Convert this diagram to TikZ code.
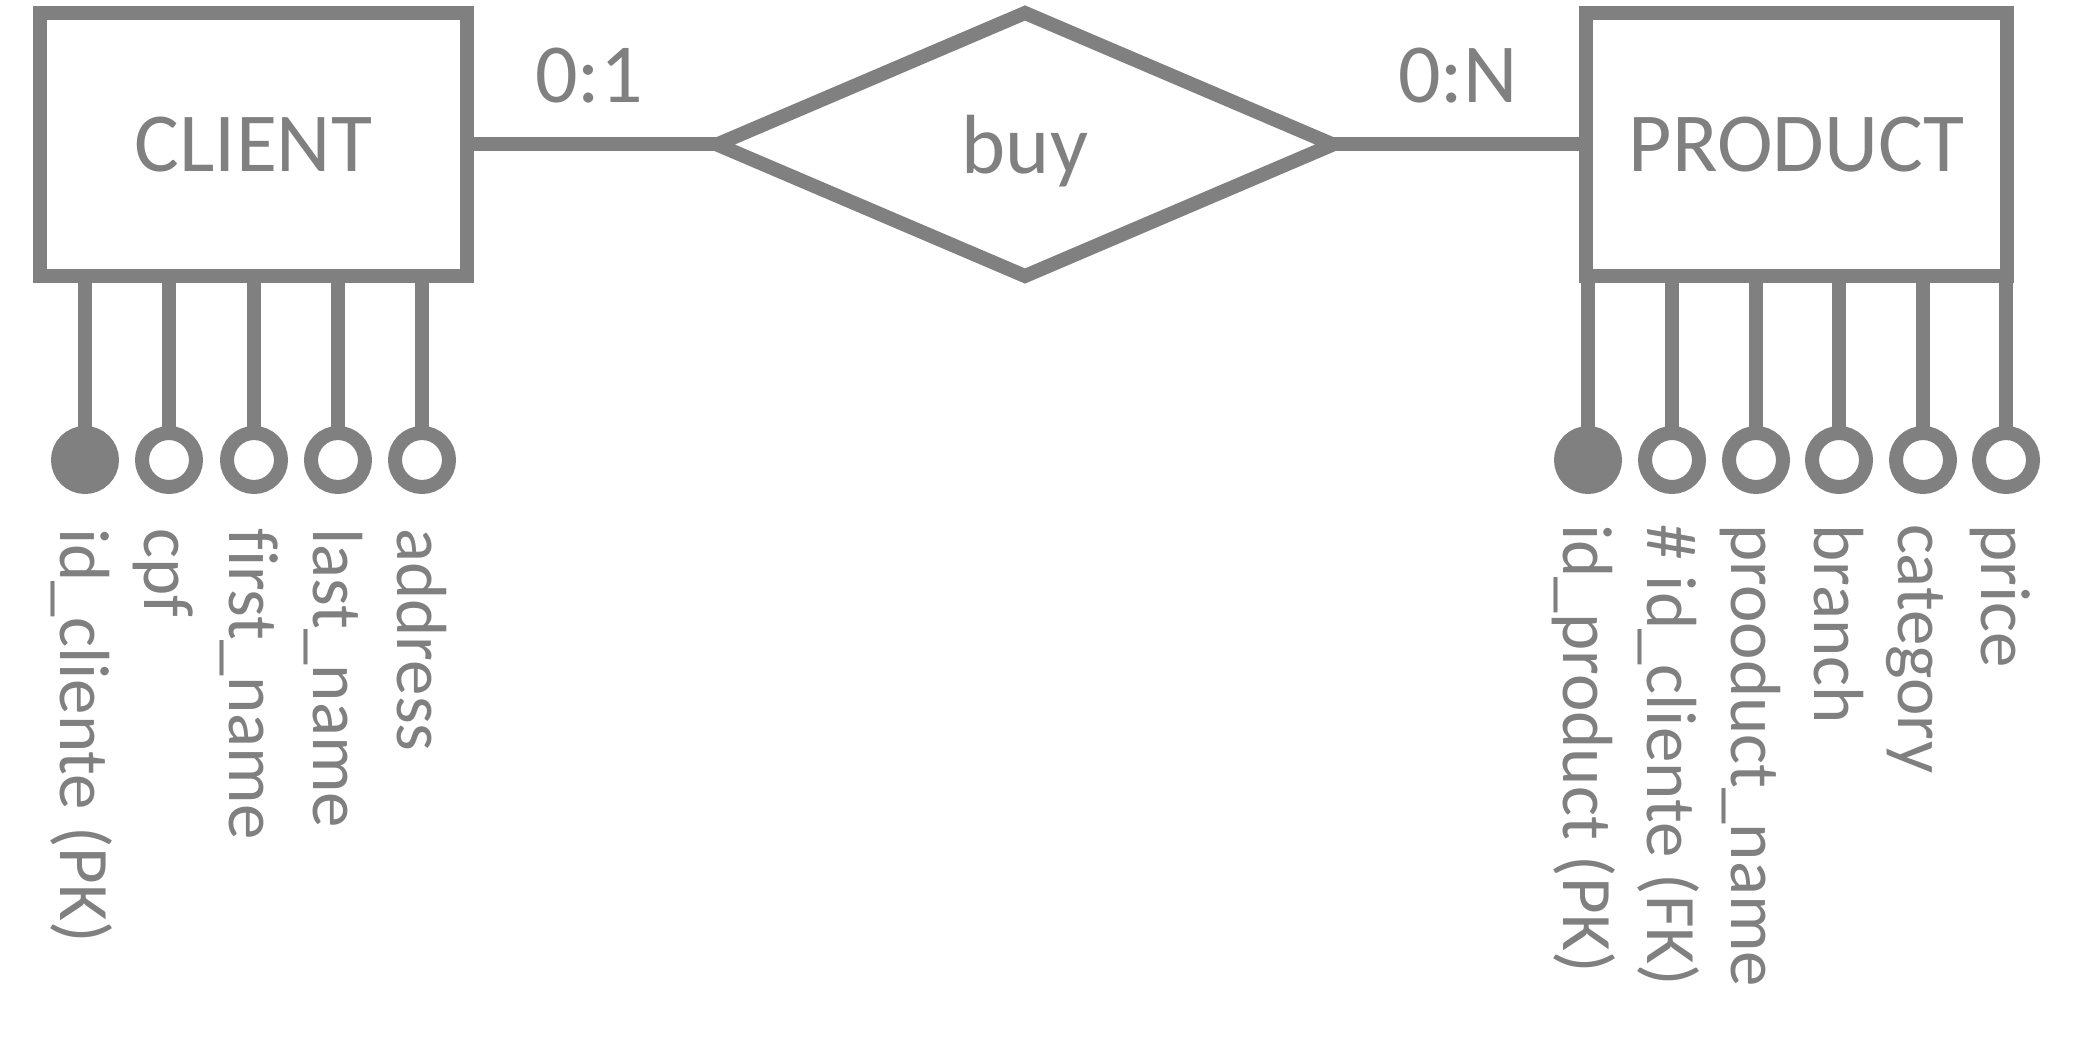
\documentclass[tikz,border=0pt]{standalone}
\usepackage{fontspec}
\setmainfont{Carlito}[Ligatures={NoCommon}]
\usetikzlibrary{shapes.geometric}
\definecolor{ergray}{HTML}{808080}
\begin{document}
\begin{tikzpicture}[x=0.5pt,y=-0.5pt,
  every node/.style={text=ergray},
  entity/.style={draw=ergray, line width=7pt, rectangle, inner sep=0pt, outer sep=0pt, font=\fontsize{42}{50}\selectfont},
  relation/.style={draw=ergray, line width=7pt, diamond, minimum width=308pt, minimum height=131.5pt, inner sep=0pt, outer sep=0pt, font=\fontsize{42}{50}\selectfont, text depth=0pt},
  conn/.style={draw=ergray, line width=7pt},
  attr/.style={circle, draw=ergray, line width=7pt, minimum size=27pt, inner sep=0pt, outer sep=0pt, fill=white},
  pk/.style={attr, fill=ergray},
  attrlabel/.style={rotate=-90, anchor=west, inner sep=0pt, font=\fontsize{35.5}{40}\selectfont, text height=25pt, text depth=0pt},
  card/.style={anchor=base, inner sep=0pt, font=\fontsize{42}{50}\selectfont}
]
\useasboundingbox (0,0) rectangle (2075,1042);

% entities and relationship
\node[entity, minimum width=213.5pt, minimum height=131.5pt] (client) at (253.5,144.5) {CLIENT};
\node[entity, minimum width=210.5pt, minimum height=131.5pt] (product) at (1796.5,144.5) {PRODUCT};
\node[relation] (buy) at (1025,144.5) {buy};

\draw[conn] (client.east) -- (buy.west);
\draw[conn] (buy.east) -- (product.west);

\node[card] (card1) at (589,103) {0:1};
\node[card] (card2) at (1458,103) {0:N};

% client attributes
\node[pk]   (c1) at (85,460) {};
\node[attr] (c2) at (169,460) {};
\node[attr] (c3) at (254,460) {};
\node[attr] (c4) at (338,460) {};
\node[attr] (c5) at (422,460) {};
\foreach \a in {c1,c2,c3,c4,c5}{\draw[conn] (\a |- client.south) -- (\a.north);}

\node[attrlabel] (lc1) at ([yshift=-20.5pt]c1.south) {id\_cliente (PK)};
\node[attrlabel] (lc2) at ([yshift=-20.5pt]c2.south) {cpf};
\node[attrlabel] (lc3) at ([yshift=-20.5pt]c3.south) {first\_name};
\node[attrlabel] (lc4) at ([yshift=-20.5pt]c4.south) {last\_name};
\node[attrlabel] (lc5) at ([yshift=-20.5pt]c5.south) {address};

% product attributes
\node[pk]   (p1) at (1588,460) {};
\node[attr] (p2) at (1672,460) {};
\node[attr] (p3) at (1756,460) {};
\node[attr] (p4) at (1839,460) {};
\node[attr] (p5) at (1923,460) {};
\node[attr] (p6) at (2006,460) {};
\foreach \a in {p1,p2,p3,p4,p5,p6}{\draw[conn] (\a |- product.south) -- (\a.north);}

\node[attrlabel] (lp1) at ([yshift=-18.5pt]p1.south) {id\_product (PK)};
\node[attrlabel] (lp2) at ([yshift=-18.5pt]p2.south) {\# id\_cliente (FK)};
\node[attrlabel] (lp3) at ([yshift=-18.5pt]p3.south) {prooduct\_name};
\node[attrlabel] (lp4) at ([yshift=-18.5pt]p4.south) {branch};
\node[attrlabel] (lp5) at ([yshift=-18.5pt]p5.south) {category};
\node[attrlabel] (lp6) at ([yshift=-18.5pt]p6.south) {price};
\end{tikzpicture}
\end{document}
